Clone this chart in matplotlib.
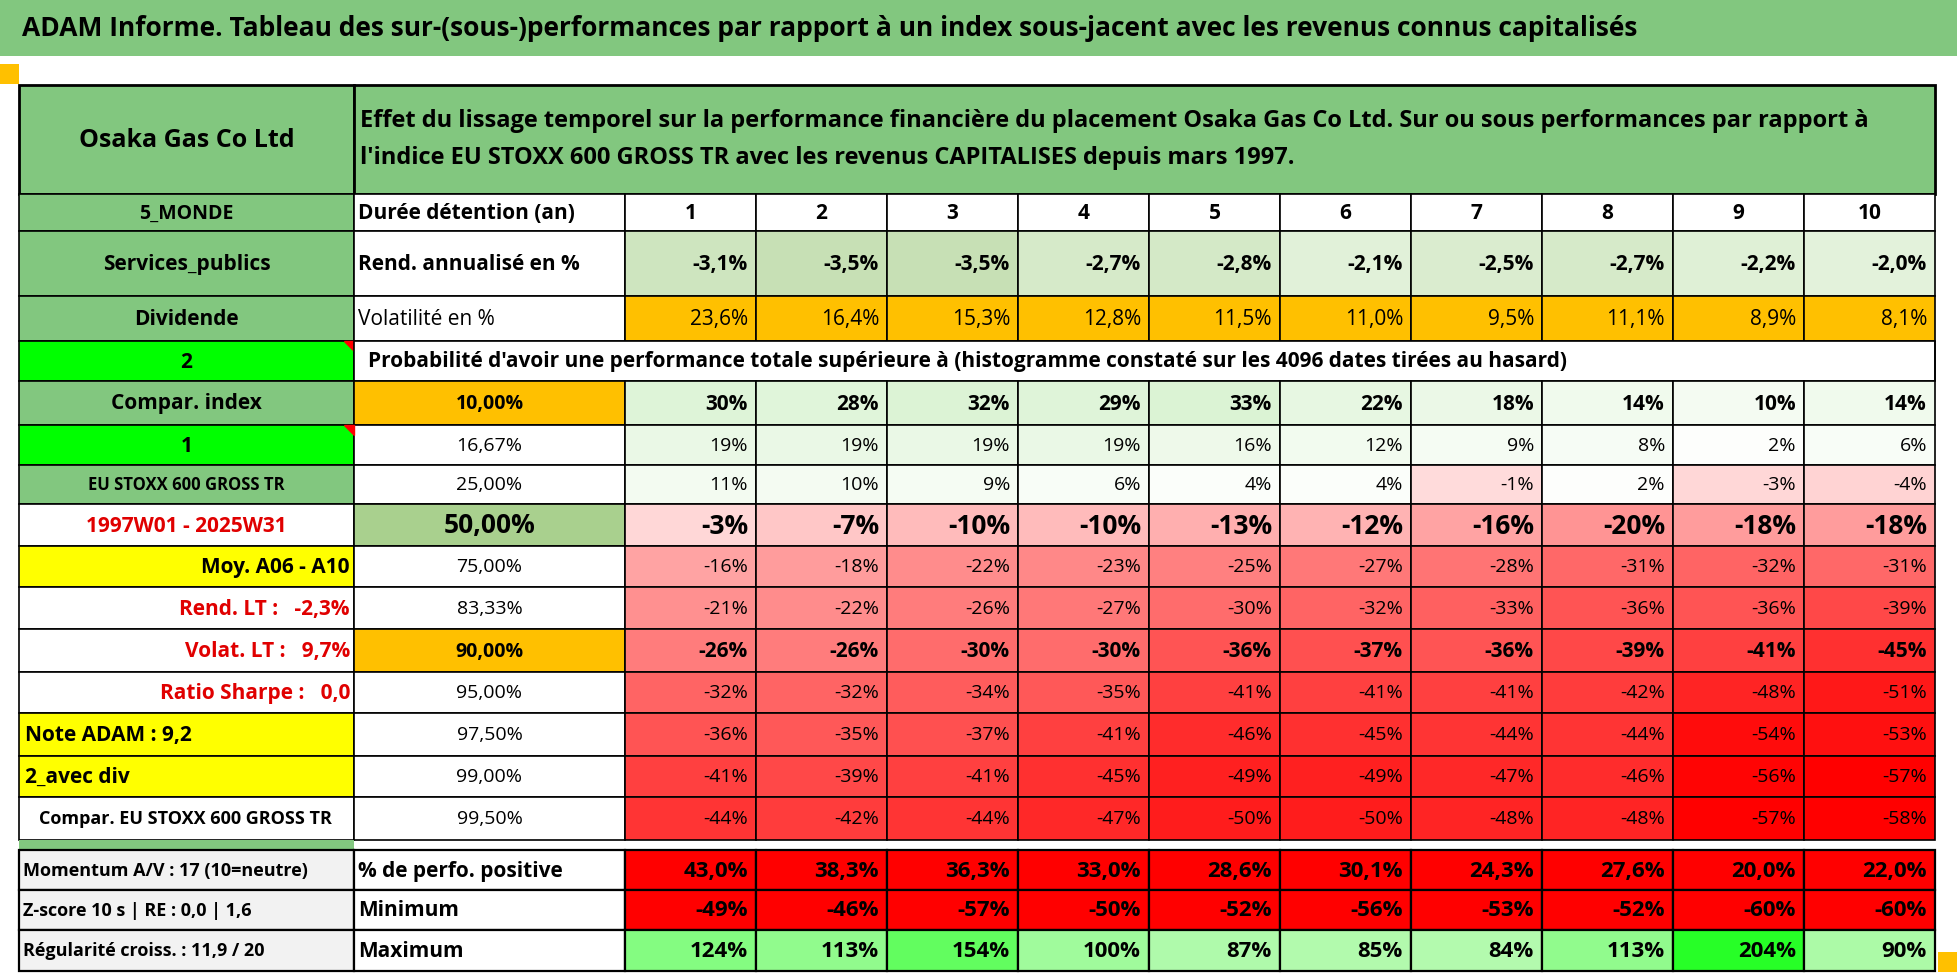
import matplotlib.pyplot as plt
from matplotlib.patches import Rectangle, Polygon

plt.rcParams['font.family'] = ['Liberation Sans Narrow', 'Open Sans', 'DejaVu Sans']

title = "ADAM Informe. Tableau des sur-(sous-)performances par rapport à un index sous-jacent avec les revenus connus capitalisés"
subtitle = ("Effet du lissage temporel sur la performance financière du placement Osaka Gas Co Ltd. Sur ou sous performances par rapport à\n"
            "l'indice EU STOXX 600 GROSS TR avec les revenus CAPITALISES depuis mars 1997.")
years = [1, 2, 3, 4, 5, 6, 7, 8, 9, 10]
rend = [-3.1, -3.5, -3.5, -2.7, -2.8, -2.1, -2.5, -2.7, -2.2, -2.0]
vol = [23.6, 16.4, 15.3, 12.8, 11.5, 11.0, 9.5, 11.1, 8.9, 8.1]
quantiles = ["10,00%", "16,67%", "25,00%", "50,00%", "75,00%", "83,33%",
             "90,00%", "95,00%", "97,50%", "99,00%", "99,50%"]
prob = [
    [30, 28, 32, 29, 33, 22, 18, 14, 10, 14],
    [19, 19, 19, 19, 16, 12, 9, 8, 2, 6],
    [11, 10, 9, 6, 4, 4, -1, 2, -3, -4],
    [-3, -7, -10, -10, -13, -12, -16, -20, -18, -18],
    [-16, -18, -22, -23, -25, -27, -28, -31, -32, -31],
    [-21, -22, -26, -27, -30, -32, -33, -36, -36, -39],
    [-26, -26, -30, -30, -36, -37, -36, -39, -41, -45],
    [-32, -32, -34, -35, -41, -41, -41, -42, -48, -51],
    [-36, -35, -37, -41, -46, -45, -44, -44, -54, -53],
    [-41, -39, -41, -45, -49, -49, -47, -46, -56, -57],
    [-44, -42, -44, -47, -50, -50, -48, -48, -57, -58],
]
pos_perf = [43.0, 38.3, 36.3, 33.0, 28.6, 30.1, 24.3, 27.6, 20.0, 22.0]
minimum = [-49, -46, -57, -50, -52, -56, -53, -52, -60, -60]
maximum = [124, 113, 154, 100, 87, 85, 84, 113, 204, 90]
left_labels = ["Compar. index", "1", "EU STOXX 600 GROSS TR", "1997W01 - 2025W31",
               "Moy. A06 - A10", "Rend. LT :   -2,3%", "Volat. LT :   9,7%",
               "Ratio Sharpe :   0,0", "Note ADAM : 9,2", "2_avec div",
               "Compar. EU STOXX 600 GROSS TR"]
bottom_labels = ["Momentum A/V : 17 (10=neutre)", "Z-score 10 s | RE : 0,0 | 1,6",
                 "Régularité croiss. : 11,9 / 20"]
bottom_names = ["% de perfo. positive", "Minimum", "Maximum"]

HG = '#82c77f'
BG = '#00ff00'
YEL = '#ffff00'
ORA = '#ffc000'

fig = plt.figure(figsize=(19.58, 9.77), dpi=100)
ax = fig.add_axes([0, 0, 1, 1])
ax.set_xlim(0, 1958)
ax.set_ylim(977, 0)
ax.axis('off')

x0, x1, x2, xe = 19, 354, 625, 1935
cw = (xe - x2) / 10
cx = [x2 + i * cw for i in range(11)]
rows_y = [85, 194, 231, 296, 341, 381, 425, 465, 504, 546, 587, 629, 672, 713, 756, 797, 840, 850, 890, 930, 971]


def cell(xa, xb, ya, yb, fc='white', text=None, ha='center', size=14, bold=False,
         color='black', lw=1.2, pad=8):
    ax.add_patch(Rectangle((xa, ya), xb - xa, yb - ya, facecolor=fc, edgecolor='black', lw=lw))
    if text is not None:
        tx = {'center': (xa + xb) / 2, 'left': xa + pad, 'right': xb - pad}[ha]
        ax.text(tx, (ya + yb) / 2 + 1, text, ha=ha, va='center', fontsize=size,
                fontweight='bold' if bold else 'normal', color=color, clip_on=True)


def mix(c1, c2, t):
    t = max(0.0, min(1.0, t))
    return tuple(a + (b - a) * t for a, b in zip(c1, c2))


def prob_color(v):
    if v >= 0:
        return mix((1, 1, 1), (0.85, 0.95, 0.82), v / 35)
    return mix((1, 0.86, 0.86), (1, 0, 0), (-v - 2) / 55)


def max_color(v):
    return mix((0.72, 0.98, 0.70), (0.15, 1.0, 0.15), (v - 80) / 125)


# title bar
ax.add_patch(Rectangle((0, 0), 1958, 56, facecolor=HG, edgecolor='none'))
ax.text(22, 29, title, ha='left', va='center', fontsize=19, fontweight='bold')
ax.add_patch(Rectangle((0, 64), 19, 20, facecolor=ORA, edgecolor='none'))
ax.add_patch(Rectangle((1938, 952), 20, 20, facecolor=ORA, edgecolor='none'))

# header
cell(x0, x1, rows_y[0], rows_y[1], HG, "Osaka Gas Co Ltd", size=18, bold=True, lw=2)
cell(x1, xe, rows_y[0], rows_y[1], HG, lw=2)
ax.text(x1 + 6, (rows_y[0] + rows_y[1]) / 2, subtitle, ha='left', va='center',
        fontsize=17, fontweight='bold', linespacing=1.75)

y = rows_y
cell(x0, x1, y[1], y[2], HG, "5_MONDE", size=14, bold=True)
cell(x1, x2, y[1], y[2], 'white', "Durée détention (an)", ha='left', size=15, bold=True, pad=4)
for i, v in enumerate(years):
    cell(cx[i], cx[i + 1], y[1], y[2], 'white', str(v), size=15, bold=True)

cell(x0, x1, y[2], y[3], HG, "Services_publics", size=15, bold=True)
cell(x1, x2, y[2], y[3], 'white', "Rend. annualisé en %", ha='left', size=15, bold=True, pad=4)
for i, v in enumerate(rend):
    fc = mix((0.78, 0.88, 0.71), (0.89, 0.95, 0.86), (v + 3.5) / 1.5)
    cell(cx[i], cx[i + 1], y[2], y[3], fc, f"{v:.1f}%".replace('.', ','), ha='right', size=15, bold=True)

cell(x0, x1, y[3], y[4], HG, "Dividende", size=15, bold=True)
cell(x1, x2, y[3], y[4], 'white', "Volatilité en %", ha='left', size=15, pad=4)
for i, v in enumerate(vol):
    cell(cx[i], cx[i + 1], y[3], y[4], ORA, f"{v:.1f}%".replace('.', ','), ha='right', size=15)

cell(x0, x1, y[4], y[5], BG, "2", size=15, bold=True)
ax.add_patch(Polygon([[x1 - 10, y[4]], [x1, y[4]], [x1, y[4] + 10]], color='red'))
cell(x1, cx[10], y[4], y[5], 'white')
ax.text(x1 + 14, (y[4] + y[5]) / 2, "Probabilité d'avoir une performance totale supérieure à "
        "(histogramme constaté sur les 4096 dates tirées au hasard)",
        ha='left', va='center', fontsize=15, fontweight='bold')
cell(cx[10], xe, y[4], y[5], 'white')

left_style = [
    (HG, 'center', 15, True, 'black'),
    (BG, 'center', 15, True, 'black'),
    (HG, 'center', 12, True, 'black'),
    ('white', 'center', 15, True, '#e00000'),
    (YEL, 'right', 15, True, 'black'),
    ('white', 'right', 15, True, '#e00000'),
    ('white', 'right', 15, True, '#e00000'),
    ('white', 'right', 15, True, '#e00000'),
    (YEL, 'left', 15, True, 'black'),
    (YEL, 'left', 15, True, 'black'),
    ('white', 'left', 13, True, 'black'),
]
q_fc = {0: ORA, 3: '#a9d08e', 6: ORA}
bold_rows = {0, 3, 6}
for r in range(11):
    ya, yb = y[5 + r], y[6 + r]
    fc, ha, sz, bd, col = left_style[r]
    cell(x0, x1, ya, yb, fc, left_labels[r], ha=ha, size=sz, bold=bd, color=col,
         pad=4 if ha == 'right' else 20 if r == 10 else 6)
    big = 19 if r == 3 else 15
    cell(x1, x2, ya, yb, q_fc.get(r, 'white'), quantiles[r], size=big if r == 3 else 14,
         bold=r in bold_rows)
    for i, v in enumerate(prob[r]):
        cell(cx[i], cx[i + 1], ya, yb, prob_color(v), f"{v}%", ha='right',
             size=big if r == 3 else 15 if r in bold_rows else 14, bold=r in bold_rows)
ax.add_patch(Polygon([[x1 - 10, y[6]], [x1, y[6]], [x1, y[6] + 10]], color='red'))

# spacer
ax.add_patch(Rectangle((x0, y[16]), x1 - x0, y[17] - y[16], facecolor=HG, edgecolor='none'))

for k in range(3):
    ya, yb = y[17 + k], y[18 + k]
    cell(x0, x1, ya, yb, '#f2f2f2', bottom_labels[k], ha='left', size=13, bold=True, pad=4, lw=1.6)
    cell(x1, x2, ya, yb, 'white', bottom_names[k], ha='left', size=15, bold=True, pad=4, lw=1.6)
    for i in range(10):
        if k == 0:
            fc, t = '#ff0000', f"{pos_perf[i]:.1f}%".replace('.', ',')
        elif k == 1:
            fc, t = '#ff0000', f"{minimum[i]}%"
        else:
            fc, t = max_color(maximum[i]), f"{maximum[i]}%"
        cell(cx[i], cx[i + 1], ya, yb, fc, t, ha='right', size=16, bold=True, lw=1.6)

fig.savefig('out.png', dpi=100)
